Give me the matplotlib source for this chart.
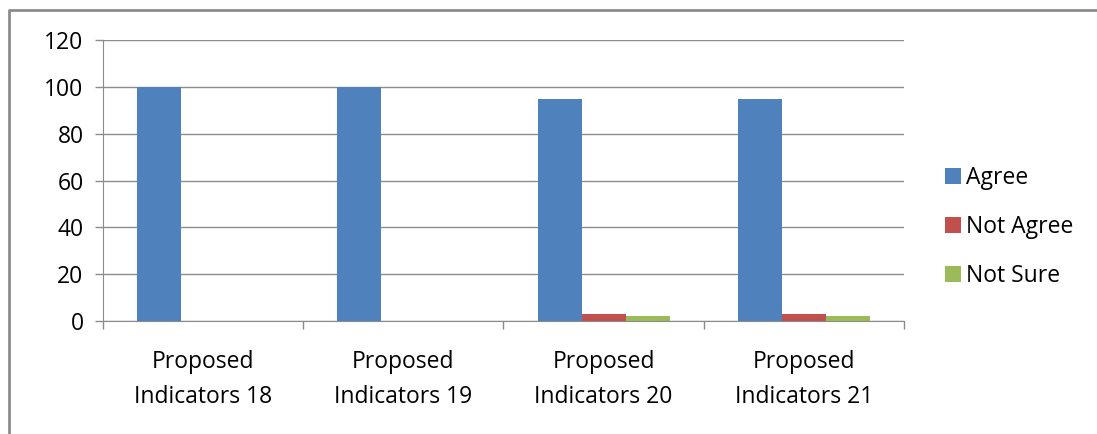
import numpy as np
import matplotlib.pyplot as plt
from matplotlib.lines import Line2D

categories = ['Proposed\nIndicators 18', 'Proposed\nIndicators 19',
              'Proposed\nIndicators 20', 'Proposed\nIndicators 21']
agree = [100, 100, 95, 95]
not_agree = [0, 0, 3, 3]
not_sure = [0, 0, 2, 2]

series = [('Agree', agree, '#4f81bd'),
          ('Not Agree', not_agree, '#c0504d'),
          ('Not Sure', not_sure, '#9bbb59')]

plt.rcParams['font.family'] = ['Open Sans', 'DejaVu Sans']
fs = 16.5

fig = plt.figure(figsize=(10.97, 4.34), dpi=100)
ax = fig.add_axes([0.0939, 0.2604, 0.7301, 0.6474])

# chart area border (top and left edges only)
fig.lines.append(Line2D([0.0078, 0.0078, 1.0], [0.0, 0.977, 0.977],
                        transform=fig.transFigure, color='#8c8c8c', linewidth=2))

x = np.arange(len(categories))
w = 0.22
for i, (name, vals, col) in enumerate(series):
    ax.bar(x + (i - 1) * w, vals, width=w, color=col, label=name, zorder=3)

ax.set_xlim(-0.5, len(categories) - 0.5)
ax.set_ylim(0, 120)
ax.set_yticks(range(0, 121, 20))
ax.yaxis.grid(True, color='#8c8c8c', linewidth=1)
ax.set_axisbelow(True)

ax.set_xticks(np.arange(-0.5, len(categories), 1))
ax.set_xticklabels([])
ax.set_xticks(x, minor=True)
ax.set_xticklabels(categories, minor=True, fontsize=fs, linespacing=1.6)
ax.tick_params(axis='x', which='minor', length=0, pad=21)
ax.tick_params(axis='x', which='major', length=6, color='#8c8c8c', width=1)
ax.tick_params(axis='y', length=6, color='#8c8c8c', width=1, labelsize=fs, pad=8)

for s in ['top', 'right']:
    ax.spines[s].set_visible(False)
for s in ['left', 'bottom']:
    ax.spines[s].set_color('#8c8c8c')

leg = ax.legend(loc='center left', bbox_to_anchor=(1.025, 0.335), frameon=False,
                fontsize=fs, handlelength=0.7, handleheight=0.7,
                handletextpad=0.24, labelspacing=1.1)

fig.savefig('out.png', dpi=100)
